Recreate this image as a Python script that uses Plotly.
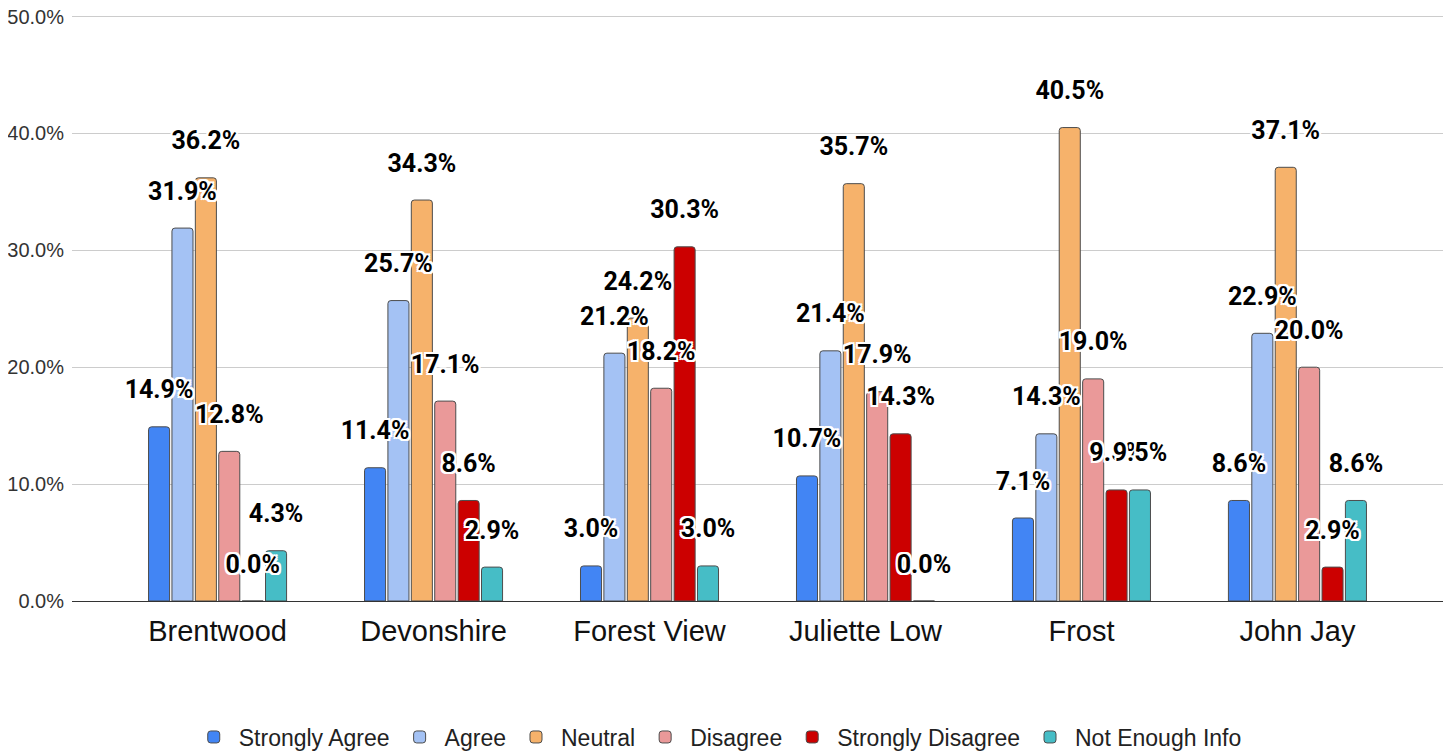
"""
Grouped bar chart: survey response share per school.
"""
import plotly.graph_objects as go

schools = ["Brentwood", "Devonshire", "Forest View", "Juliette Low", "Frost", "John Jay"]

strongly_agree = [14.9, 11.4, 3.0, 10.7, 7.1, 8.6]
agree = [31.9, 25.7, 21.2, 21.4, 14.3, 22.9]
neutral = [36.2, 34.3, 24.2, 35.7, 40.5, 37.1]
disagree = [12.8, 17.1, 18.2, 17.9, 19.0, 20.0]
strongly_disagree = [0.0, 8.6, 30.3, 14.3, 9.5, 2.9]
not_enough_info = [4.3, 2.9, 3.0, 0.0, 9.5, 8.6]

y_ticks = [0, 10, 20, 30, 40, 50]

series = [
    ("Strongly Agree", strongly_agree, "#4285f4"),
    ("Agree", agree, "#a4c2f4"),
    ("Neutral", neutral, "#f6b26b"),
    ("Disagree", disagree, "#ea9999"),
    ("Strongly Disagree", strongly_disagree, "#cc0000"),
    ("Not Enough Info", not_enough_info, "#46bdc6"),
]

# white halo round the data labels
OUTLINE = ", ".join(
    f"{dx}px {dy}px 0 #ffffff"
    for dx, dy in [(2, 0), (-2, 0), (0, 2), (0, -2), (2, 2), (-2, -2), (2, -2), (-2, 2)]
)

fig = go.Figure()

# ── bars ─────────────────────────────────────────────────────────────────────
for name, vals, color in series:
    fig.add_trace(go.Bar(
        x=schools,
        y=vals,
        name=name,
        offsetgroup=name,
        marker={"color": color, "line": {"color": "#4d4d4d", "width": 1}, "cornerradius": 3},
        hovertemplate="%{x}<br>" + name + ": %{y:.1f}%<extra></extra>",
    ))

# ── data labels (grouped scatter text, drawn above every bar) ────────────────
for name, vals, color in series:
    fig.add_trace(go.Scatter(
        x=schools,
        y=vals,
        mode="markers+text",
        offsetgroup=name,
        text=[f"{v:.1f}%" for v in vals],
        textposition="top center",
        textfont={"family": "Roboto, Arial, sans-serif", "size": 25, "color": "#000000",
                  "weight": "bold", "shadow": OUTLINE},
        marker={"size": 34, "opacity": 0},
        showlegend=False,
        hoverinfo="skip",
        cliponaxis=False,
    ))

# page body adds an 8px offset; legend kept inside the figure so it never pushes margins
fig.update_layout(
    width=1436,
    height=754,
    barmode="group",
    bargap=0.35,
    bargroupgap=0.1,
    scattermode="group",
    scattergap=0.35,
    paper_bgcolor="#ffffff",
    plot_bgcolor="#ffffff",
    font={"family": "Arial, Liberation Sans, sans-serif", "color": "#222222"},
    margin={"t": 5, "b": 161, "l": 64, "r": 1},
    legend={
        "orientation": "h",
        "x": 0.471,
        "xanchor": "center",
        "y": -0.2313,
        "yanchor": "middle",
        "font": {"size": 23, "color": "#222222"},
        "itemwidth": 40,
        "traceorder": "normal",
    },
    showlegend=True,
)
fig.update_xaxes(
    range=[-0.674, 5.674],
    automargin=False,
    showgrid=False,
    showline=True,
    linecolor="#333333",
    linewidth=1,
    ticks="",
    tickfont={"size": 29, "color": "#111111"},
    ticklabelstandoff=4,
)
fig.update_yaxes(
    range=[0, 50.3],
    automargin=False,
    tickvals=y_ticks,
    ticktext=[f"{t:.1f}%" for t in y_ticks],
    ticklabeloverflow="allow",
    showgrid=True,
    gridcolor="#cccccc",
    gridwidth=1,
    zeroline=False,
    showline=False,
    tickfont={"size": 20, "color": "#333333"},
    ticklabelstandoff=7,
)

fig.write_html("out.html")
